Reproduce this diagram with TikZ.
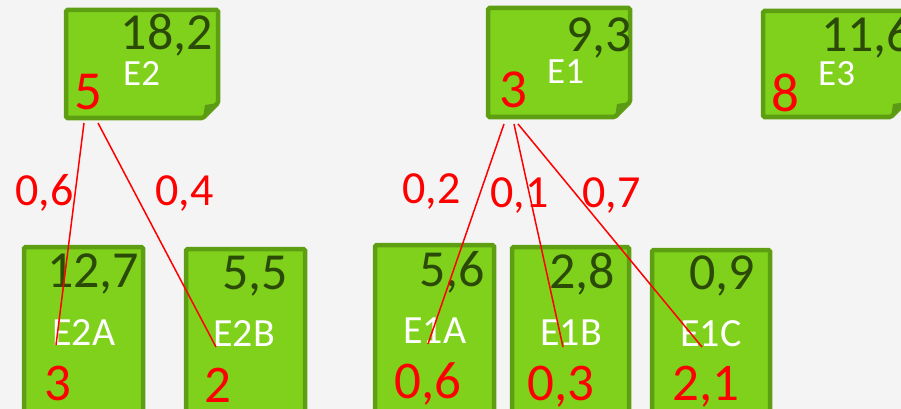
\documentclass[tikz,border=0pt]{standalone}
\usepackage{fontspec}
\setmainfont{Carlito}
\usetikzlibrary{calc,fit}
\definecolor{boxfill}{HTML}{7FD11B}
\definecolor{boxedge}{HTML}{5E9E12}
\definecolor{darknum}{HTML}{2B4A07}
\definecolor{bgc}{HTML}{F4F4F4}
\definecolor{foldc}{HTML}{5A9A14}
\definecolor{redc}{HTML}{FF0000}
\begin{document}
\begin{tikzpicture}[x=1pt,y=-1pt,
  area/.style={inner sep=0pt,outer sep=0pt},
  greenbox/.style={fill=boxfill,draw=boxedge,line width=4.5pt,rounded corners=1.5pt},
  foldflap/.style={fill=foldc},
  valtxt/.style={inner sep=0pt,text=darknum,font=\fontsize{52}{52}\selectfont},
  toplab/.style={inner sep=0pt,text=white,font=\fontsize{37}{37}\selectfont},
  botlab/.style={inner sep=0pt,text=white,font=\fontsize{40}{40}\selectfont},
  redtop/.style={inner sep=0pt,text=redc,font=\fontsize{55}{55}\selectfont},
  redbot/.style={inner sep=0pt,text=redc,font=\fontsize{53}{53}\selectfont},
  edgelab/.style={inner sep=0pt,text=redc,font=\fontsize{46}{46}\selectfont},
  link/.style={draw=redc,line width=1.5pt}]
\fill[bgc] (0,0) rectangle (901,409);
\useasboundingbox (0,0) rectangle (901,409);

% top boxes (folded corner)
\node[area,fit={(66,10) (218,118)}] (E2) {};
\node[area,fit={(488,8) (630,117)}] (E1) {};
\node[area,fit={(763,11) (906,117)}] (E3) {};
\foreach \b in {E2,E1,E3}{
  \filldraw[greenbox] (\b.north west) -- (\b.north east) -- ($(\b.south east)+(0,-15)$)
     -- ($(\b.south east)+(-15,0)$) -- (\b.south west) -- cycle;
  \fill[foldflap] ($(\b.south east)+(0,-15)$) -- ($(\b.south east)+(-15,0)$)
     -- ($(\b.south east)+(-13,-13)$) -- cycle;
}

% bottom boxes
\node[area,fit={(24,247) (143,418)}] (E2A) {};
\node[area,fit={(186,249) (305,418)}] (E2B) {};
\node[area,fit={(375,245) (494,418)}] (E1A) {};
\node[area,fit={(512,247) (629,418)}] (E1B) {};
\node[area,fit={(652,250) (770,418)}] (E1C) {};
\foreach \b in {E2A,E2B,E1A,E1B,E1C}{
  \filldraw[greenbox] (\b.north west) rectangle (\b.south east);
}

% texts top
\node[valtxt,anchor=base east] (E2v) at (213,50) {18,2};
\node[toplab,anchor=base west] (E2l) at (123,86) {E2};
\node[redtop,anchor=base west] (E2r) at (74,110) {5};
\node[valtxt,anchor=base east] (E1v) at (632,52) {9,3};
\node[toplab,anchor=base west] (E1l) at (547,84) {E1};
\node[redtop,anchor=base west] (E1r) at (499,108) {3};
\node[valtxt,anchor=base west] (E3v) at (821,52) {11,6};
\node[toplab,anchor=base west] (E3l) at (818,86) {E3};
\node[redtop,anchor=base west] (E3r) at (771,112) {8};

% texts bottom
\node[valtxt,anchor=base west] (E2Av) at (47,287) {12,7};
\node[botlab,anchor=base west] (E2Al) at (52,345) {E2A};
\node[redbot,anchor=base west] (E2Ar) at (44,400) {3};
\node[valtxt,anchor=base west] (E2Bv) at (222,289) {5,5};
\node[botlab,anchor=base west] (E2Bl) at (213,346) {E2B};
\node[redbot,anchor=base west] (E2Br) at (204,402) {2};
\node[valtxt,anchor=base west] (E1Av) at (419,286) {5,6};
\node[botlab,anchor=base west] (E1Al) at (403,343) {E1A};
\node[redbot,anchor=base west] (E1Ar) at (394,398) {0,6};
\node[valtxt,anchor=base west] (E1Bv) at (549,288) {2,8};
\node[botlab,anchor=base west] (E1Bl) at (540,345) {E1B};
\node[redbot,anchor=base west] (E1Br) at (527,400) {0,3};
\node[valtxt,anchor=base west] (E1Cv) at (689,289) {0,9};
\node[botlab,anchor=base west] (E1Cl) at (680,346) {E1C};
\node[redbot,anchor=base west] (E1Cr) at (672,400) {2,1};

% edge labels
\node[edgelab,anchor=base west] (w1) at (15,205) {0,6};
\node[edgelab,anchor=base west] (w2) at (155,205) {0,4};
\node[edgelab,anchor=base west] (w3) at (402,203) {0,2};
\node[edgelab,anchor=base west] (w4) at (490,207) {0,1};
\node[edgelab,anchor=base west] (w5) at (582,207) {0,7};

% connector end points
\coordinate (E2o1) at ($(E2.south west)+(18,5)$);
\coordinate (E2o2) at ($(E2.south west)+(32,5)$);
\coordinate (E1o1) at ($(E1.south west)+(16,7)$);
\coordinate (E1o2) at ($(E1.south west)+(26,7)$);
\coordinate (E1o3) at ($(E1.south west)+(30,7)$);
\coordinate (E2Ai) at (56,345);
\coordinate (E2Bi) at (216,347);
\coordinate (E1Ai) at (428,344);
\coordinate (E1Bi) at (563,347);
\coordinate (E1Ci) at (702,347);

\draw[link] (E2o1) -- (E2Ai);
\draw[link] (E2o2) -- (E2Bi);
\draw[link] (E1o1) -- (E1Ai);
\draw[link] (E1o2) -- (E1Bi);
\draw[link] (E1o3) -- (E1Ci);
\end{tikzpicture}
\end{document}
